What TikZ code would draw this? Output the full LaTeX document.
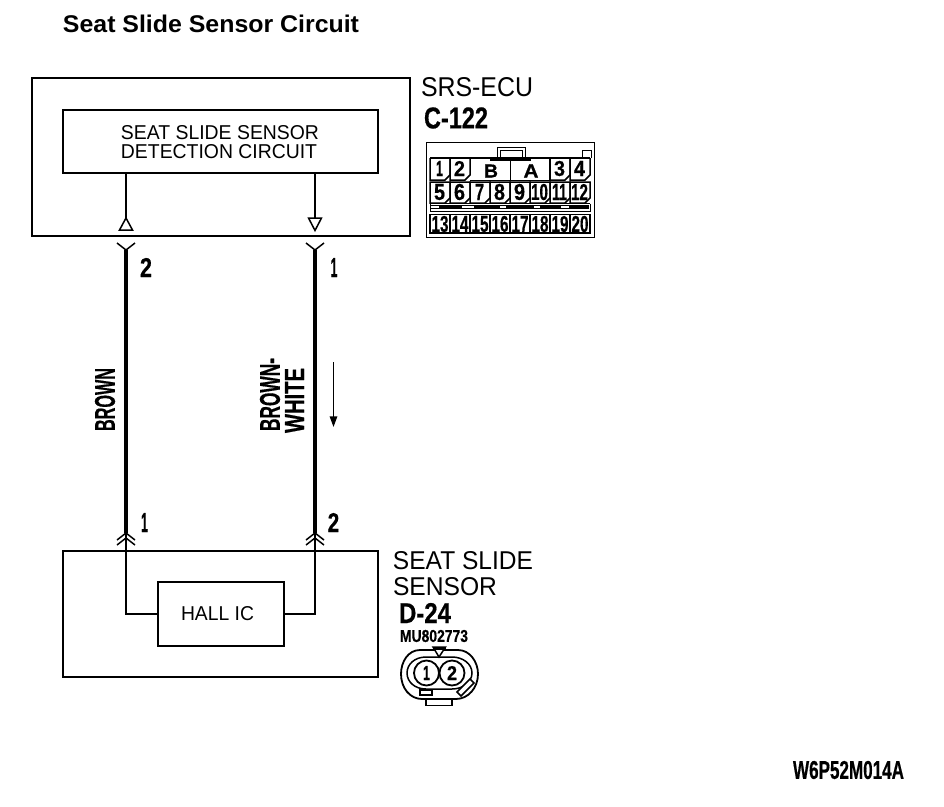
\documentclass[tikz,border=0pt]{standalone}
\usepackage{fontspec}
\usepackage{graphicx}
\setmainfont{Liberation Sans}
\newfontfamily\heavy[FakeBold=0.6]{Liberation Sans Bold}
\usetikzlibrary{calc}
\newcommand{\fitbox}[3]{\resizebox{#1pt}{#2pt}{#3}}
\tikzset{
  x=1pt,y=-1pt,
  lbl/.style={inner sep=0pt,outer sep=0pt,text=black},
  boxA/.style={draw=black,line width=1.6pt,inner sep=0pt,outer sep=0pt},
  thinw/.style={draw=black,line width=1.5pt},
  thickw/.style={draw=black,line width=4pt},
  conn/.style={draw=black,line width=1.5pt},
  branch/.style={draw=black,line width=1.5pt},
  pincircle/.style={draw=black,line width=1.8pt,circle,fill=white,minimum size=25pt,inner sep=0pt},
}
\begin{document}
\begin{tikzpicture}
\useasboundingbox (0,0) rectangle (944,806);
\fill[white] (0,0) rectangle (944,806);
% title
\node[lbl] (title) at (211,23.5) {\fitbox{296}{17.5}{\bfseries Seat Slide Sensor Circuit}};
% boxes
\node[boxA,line width=1.3pt,minimum width=378pt,minimum height=158pt] (ecu) at (221,157) {};
\node[boxA,minimum width=315pt,minimum height=63pt] (det) at (220.5,141.5) {};
\node[lbl] (det1) at (220,133) {\fitbox{198}{14}{SEAT SLIDE SENSOR}};
\node[lbl] (det2) at (219,152) {\fitbox{196}{14}{DETECTION CIRCUIT}};
\node[boxA,minimum width=315pt,minimum height=126pt] (sensor) at (220.5,614) {};
\node[boxA,minimum width=126pt,minimum height=64pt] (hall) at (221,614) {};
\node[lbl] (halltxt) at (217.5,614) {\fitbox{73}{14}{HALL IC}};
% ECU inner pins
\draw[thinw] (126,173) -- (126,219);
\draw[thinw] (315,173) -- (315,218);
\draw[draw=black,line width=1.5pt,line join=miter] (126,218) -- (119.5,230) -- (132.5,230) -- cycle;
\draw[draw=black,line width=1.5pt,line join=miter] (308.5,218) -- (321.5,218) -- (315,230.5) -- cycle;
% wires
\coordinate (wla) at (126,250);
\coordinate (wlb) at (126,533);
\coordinate (wra) at (315,250);
\coordinate (wrb) at (315,533);
\draw[thickw] (wla) -- (wlb);
\draw[thickw] (wra) -- (wrb);
\foreach \p in {wla,wra}{
  \draw[branch] ($(\p)+(-9,-7)$) -- (\p) -- ($(\p)+(9,-7)$);
}
\foreach \p in {wlb,wrb}{
  \draw[branch] ($(\p)+(-9,7)$) -- (\p) -- ($(\p)+(9,7)$);
  \draw[branch] ($(\p)+(-9,12)$) -- ($(\p)+(0,5)$) -- ($(\p)+(9,12)$);
}
\draw[thinw] (wlb) |- (hall.west);
\draw[thinw] (wrb) |- (hall.east);
% wire labels
\node[lbl] (n2a) at (146,267.5) {\fitbox{12}{19}{\heavy 2}};
\node[lbl] (n1a) at (334,267.5) {\fitbox{7}{19}{\heavy 1}};
\node[lbl] (n1b) at (144.5,522.5) {\fitbox{7}{19}{\heavy 1}};
\node[lbl] (n2b) at (333.5,522.5) {\fitbox{11.5}{19}{\heavy 2}};
\node[lbl,rotate=90] (brown) at (105,399.5) {\fitbox{63}{20}{\heavy BROWN}};
\node[lbl,rotate=90] (bw1) at (270,394.5) {\fitbox{73}{20}{\heavy BROWN-}};
\node[lbl,rotate=90] (bw2) at (294.5,400.5) {\fitbox{65}{19}{\heavy WHITE}};
% current arrow
\coordinate (aa) at (333.5,362);
\coordinate (ab) at (333.5,425);
\draw[draw=black,line width=1.3pt] (aa) -- (ab);
\draw[draw=black,line width=1.3pt,fill=black] (330.5,417) -- (333.5,425) -- (336.5,417) -- cycle;
% SRS-ECU connector
\node[lbl] (srs) at (477,87) {\fitbox{112}{19}{SRS-ECU}};
\node[lbl] (c122) at (456,118) {\fitbox{64}{21}{\heavy C-122}};
\draw[conn,line width=1.8pt] (426.5,142.5) rectangle (594.5,237.5);
\draw[conn,line width=1pt] (497,158) -- (497,147) -- (525,147) -- (525,158);
\draw[conn,line width=1pt] (500,158) -- (500,150) -- (522,150) -- (522,158);
\draw[conn,line width=1pt] (582,158) -- (582,150) -- (591,150) -- (591,158);
\draw[conn] (430,158) -- (590,158);
\draw[conn] (550,158) -- (550,180);
\draw[line width=1.5pt] (490,160) -- (531,160);
\draw[conn,line width=1pt] (510.5,158) -- (510.5,180);
\node[lbl] (lb) at (491,171) {\fitbox{14}{13}{\heavy B}};
\node[lbl] (la) at (531,171) {\fitbox{15}{13}{\heavy A}};
\draw[conn] (470,180.5) -- (550,180.5);
% row 1 cells
\foreach \x/\t/\w in {430/1/7,450/2/11,550/3/11,570/4/11}{
  \draw[conn] (\x,158) -- (\x,180) -- (\x+15,180) -- (\x+20,175) -- (\x+20,158);
  \node[lbl] at (\x+9.5,168.5) {\fitbox{\w}{15}{\heavy \t}};
}
% row 2 cells
\foreach \x/\t/\w in {430/5/11,450/6/11,470/7/9,490/8/11,510/9/11,530/10/17,550/11/15,570/12/17}{
  \draw[conn] (\x,182) -- (\x,203) -- (\x+15,203) -- (\x+20,198) -- (\x+20,182) -- cycle;
  \node[lbl] at (\x+9.5,192) {\fitbox{\w}{16}{\heavy \t}};
}
% band
\draw[line width=1pt] (430,203.5) -- (590,203.5);
\draw[line width=1pt] (430,211.5) -- (590,211.5);
\draw[line width=1pt] (430,203.5) -- (430,211.5) (590,203.5) -- (590,211.5);
\fill[black] (431,205) rectangle (589,209);
\foreach \x/\w in {431/8,462/12,500/6,534/6,561/8}{ \fill[white] (\x,206) rectangle (\x+\w,208); }
% row 3 cells
\foreach \x/\t in {430/13,450/14,470/15,490/16,510/17,530/18,550/19,570/20}{
  \draw[conn] (\x,214.5) -- (\x,233) -- (\x+20,233) -- (\x+20,214.5) -- cycle;
  \node[lbl] at (\x+10,224) {\fitbox{17}{16}{\heavy \t}};
}
% sensor labels
\node[lbl] (seat) at (463,561) {\fitbox{140}{18}{SEAT SLIDE}};
\node[lbl] (sens) at (445,586.5) {\fitbox{104}{18}{SENSOR}};
\node[lbl] (d24) at (425,613) {\fitbox{52}{20}{\heavy D-24}};
\node[lbl] (mu) at (434,636) {\fitbox{68}{12}{\heavy MU802773}};
% D-24 connector
\draw[conn,line width=1.8pt] (420,650) -- (458,650) .. controls (470,650) and (478,662) .. (478,674)
  .. controls (478,688) and (468,699) .. (456,699) -- (422,699)
  .. controls (410,699) and (401,688) .. (401,674) .. controls (401,662) and (408,650) .. (420,650) -- cycle;
\draw[conn] (426,657) -- (452,657) .. controls (463,657) and (472,664) .. (472,673)
  .. controls (472,682) and (463,689) .. (452,689) -- (426,689)
  .. controls (415,689) and (407,682) .. (407,673) .. controls (407,664) and (415,657) .. (426,657) -- cycle;
\draw[conn] (426,699) -- (426,705.5) -- (452,705.5) -- (452,699);
\draw[conn,fill=white] (420,690) rectangle (432,695);
\draw[conn,fill=white] (457,692) -- (470,679) -- (474,683) -- (461,696) -- cycle;
\node[pincircle] (c1) at (426.5,673) {};
\node[pincircle] (c2) at (452,673) {};
\node[lbl] at (c1) {\fitbox{7}{14}{\heavy 1}};
\node[lbl] at (c2) {\fitbox{10}{14}{\heavy 2}};
\draw[conn,fill=white] (433,647) -- (445.5,647) -- (439,657) -- cycle;
\fill[black] (433,647) rectangle (445.5,649.5);
% code
\node[lbl] (code) at (848.5,770) {\fitbox{111}{18}{\heavy W6P52M014A}};
\end{tikzpicture}
\end{document}
